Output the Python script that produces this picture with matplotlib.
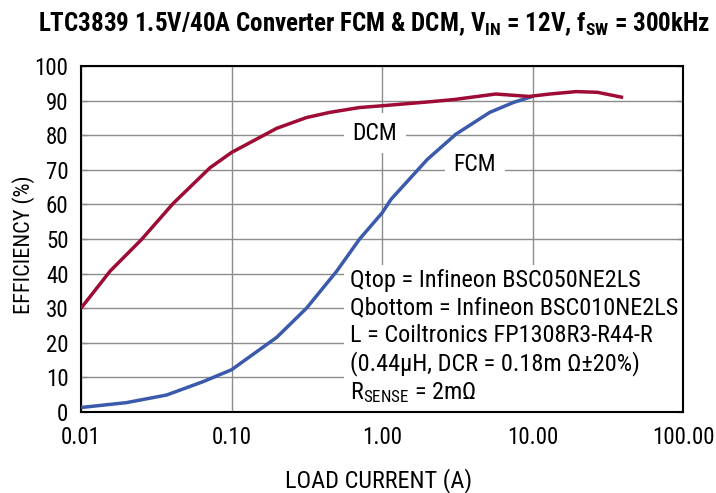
import matplotlib
matplotlib.use("Agg")
import matplotlib.pyplot as plt
from matplotlib.ticker import FixedLocator, FixedFormatter, NullLocator

FONT = 'Roboto Condensed'
plt.rcParams['font.family'] = [FONT, 'DejaVu Sans']
plt.rcParams['mathtext.fontset'] = 'custom'
plt.rcParams['mathtext.rm'] = FONT
plt.rcParams['mathtext.it'] = FONT
plt.rcParams['mathtext.bf'] = FONT + ':bold'

# Data (load current in A, efficiency in %)
dcm_current = [0.01, 0.0156, 0.0253, 0.041, 0.072, 0.1, 0.2, 0.315, 0.45, 0.71, 1.0, 2.0, 3.0, 5.7, 9.5, 13, 19.5, 27, 40]
dcm_eff = [30, 40.7, 49.9, 60.3, 70.6, 75, 82, 85.1, 86.6, 88, 88.5, 89.6, 90.3, 91.9, 91.2, 91.9, 92.6, 92.4, 90.9]
fcm_current = [0.01, 0.02, 0.037, 0.065, 0.1, 0.2, 0.315, 0.5, 0.71, 1.0, 1.15, 2.0, 3.1, 5.2, 7.5, 10]
fcm_eff = [1.3, 2.7, 4.9, 8.8, 12.2, 21.6, 30, 40.7, 50, 57.5, 61.5, 73, 80.3, 86.6, 89.5, 91.2]

xticks = [0.01, 0.1, 1, 10, 100]
xticklabels = ["0.01", "0.10", "1.00", "10.00", "100.00"]
yticks = list(range(0, 101, 10))

title = r"LTC3839 1.5V/40A Converter FCM & DCM, V$_\mathbf{IN}$ = 12V, f$_\mathbf{SW}$ = 300kHz"
note = ("Qtop = Infineon BSC050NE2LS\n"
        "Qbottom = Infineon BSC010NE2LS\n"
        "L = Coiltronics FP1308R3-R44-R\n"
        "(0.44μH, DCR = 0.18m Ω±20%)\n"
        r"R$_{\mathrm{SENSE}}$ = 2mΩ")

red = "#9E0B35"
blue = "#3C5AAB"
gridc = "#8C8C8C"

W, H = 716, 493
fig = plt.figure(figsize=(W/100, H/100), dpi=100)
ax = fig.add_axes([81/W, 1-412/H, (683-81)/W, (412-66)/H])
ax.set_xscale('log')
ax.set_xlim(0.01, 100)
ax.set_ylim(0, 100)

ax.xaxis.set_major_locator(FixedLocator(xticks))
ax.xaxis.set_major_formatter(FixedFormatter(xticklabels))
ax.xaxis.set_minor_locator(NullLocator())
ax.set_yticks(yticks)
ax.grid(True, color=gridc, linewidth=1.0, zorder=0)
ax.tick_params(axis='both', length=0, labelsize=16.5, colors='black')
ax.tick_params(axis='x', pad=10)
ax.tick_params(axis='y', pad=9, right=True, direction='in', length=4, width=1, color=gridc)
for s in ax.spines.values():
    s.set_linewidth(1.5)
    s.set_color('black')

ax.plot(fcm_current, fcm_eff, color=blue, linewidth=2.5, zorder=3, solid_capstyle='butt')
ax.plot(dcm_current, dcm_eff, color=red, linewidth=2.5, zorder=4, solid_capstyle='butt')

box = dict(facecolor='white', edgecolor='none', pad=6)
ax.text(0.9, 80.6, "DCM", fontsize=17, ha='center', va='center', bbox=box, zorder=2)
ax.text(4.15, 71.5, "FCM", fontsize=17, ha='center', va='center', bbox=box, zorder=2)
ax.text(0.61, 41.2, note, fontsize=17.5, ha='left', va='top', linespacing=1.23,
        bbox=dict(facecolor='white', edgecolor='none', pad=4), zorder=2)

fig.text(379/W, 1-487.3/H, "LOAD CURRENT (A)", fontsize=17.5, ha='center', va='baseline')
fig.text(30/W, 1-244.5/H, "EFFICIENCY (%)", fontsize=16, rotation=90, rotation_mode='anchor',
         ha='center', va='baseline')
fig.text(38/W, 1-30.7/H, title, fontsize=18, fontweight='bold', ha='left', va='baseline')

fig.savefig("out.png", dpi=100)
